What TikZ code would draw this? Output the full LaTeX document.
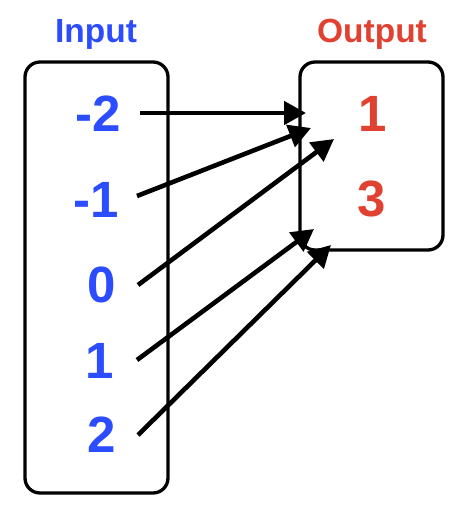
\documentclass[tikz,border=0pt]{standalone}
\usepackage{fontspec}
\setmainfont{Liberation Sans}
\usetikzlibrary{arrows.meta}
\usetikzlibrary{positioning}
\definecolor{inblue}{RGB}{44,76,255}
\definecolor{outred}{RGB}{224,65,48}

\begin{document}
\begin{tikzpicture}[x=1pt,y=-1pt]
			\tikzset{box/.style = {shape=rectangle, rounded corners=15pt, draw, line width=3.3pt, inner sep=0pt}}
			\tikzset{title/.style = {anchor=base, font=\fontsize{33.5}{38}\selectfont\bfseries}}
			\tikzset{num/.style = {anchor=base, font=\fontsize{51}{56}\selectfont\bfseries}}
			\tikzset{arr/.style = {-{Triangle[length=22pt,width=23pt]}, line width=4.6pt}}
			
			\useasboundingbox (0,0) rectangle (460,509);
			
			% the two sets
			\node[box, minimum width=143pt, minimum height=431pt] (inbox) at (96.5,277.5) {};
			\node[box, minimum width=143pt, minimum height=188pt] (outbox) at (371.5,156) {};
			
			\node[title, text=inblue] (intitle) at (96,42) {Input};
			\node[title, text=outred] (outtitle) at (372,42) {Output};
			
			% inputs
			\node[num, text=inblue] (im2) at (98,131) {-2};
			\node[num, text=inblue] (im1) at (96,217) {-1};
			\node[num, text=inblue] (i0) at (102,302) {0};
			\node[num, text=inblue] (i1) at (100,378) {1};
			\node[num, text=inblue] (i2) at (102,452) {2};
			
			% outputs
			\node[num, text=outred] (o1) at (373,131) {1};
			\node[num, text=outred] (o3) at (372,216) {3};
			
			\coordinate (t1) at (306,113);
			\coordinate (t2) at (311,128);
			\coordinate (t3) at (334,139);
			\coordinate (t4) at (314,229);
			\coordinate (t5) at (331,245);
			
			\draw[arr] ([shift={(42,-18)}]im2.base) -- (t1);
			\draw[arr] ([shift={(41,-21)}]im1.base) -- (t2);
			\draw[arr] ([shift={(36,-17)}]i0.base) -- (t3);
			\draw[arr] ([shift={(37,-18)}]i1.base) -- (t4);
			\draw[arr] ([shift={(36,-17)}]i2.base) -- (t5);
			
			\end{tikzpicture}
\end{document}
